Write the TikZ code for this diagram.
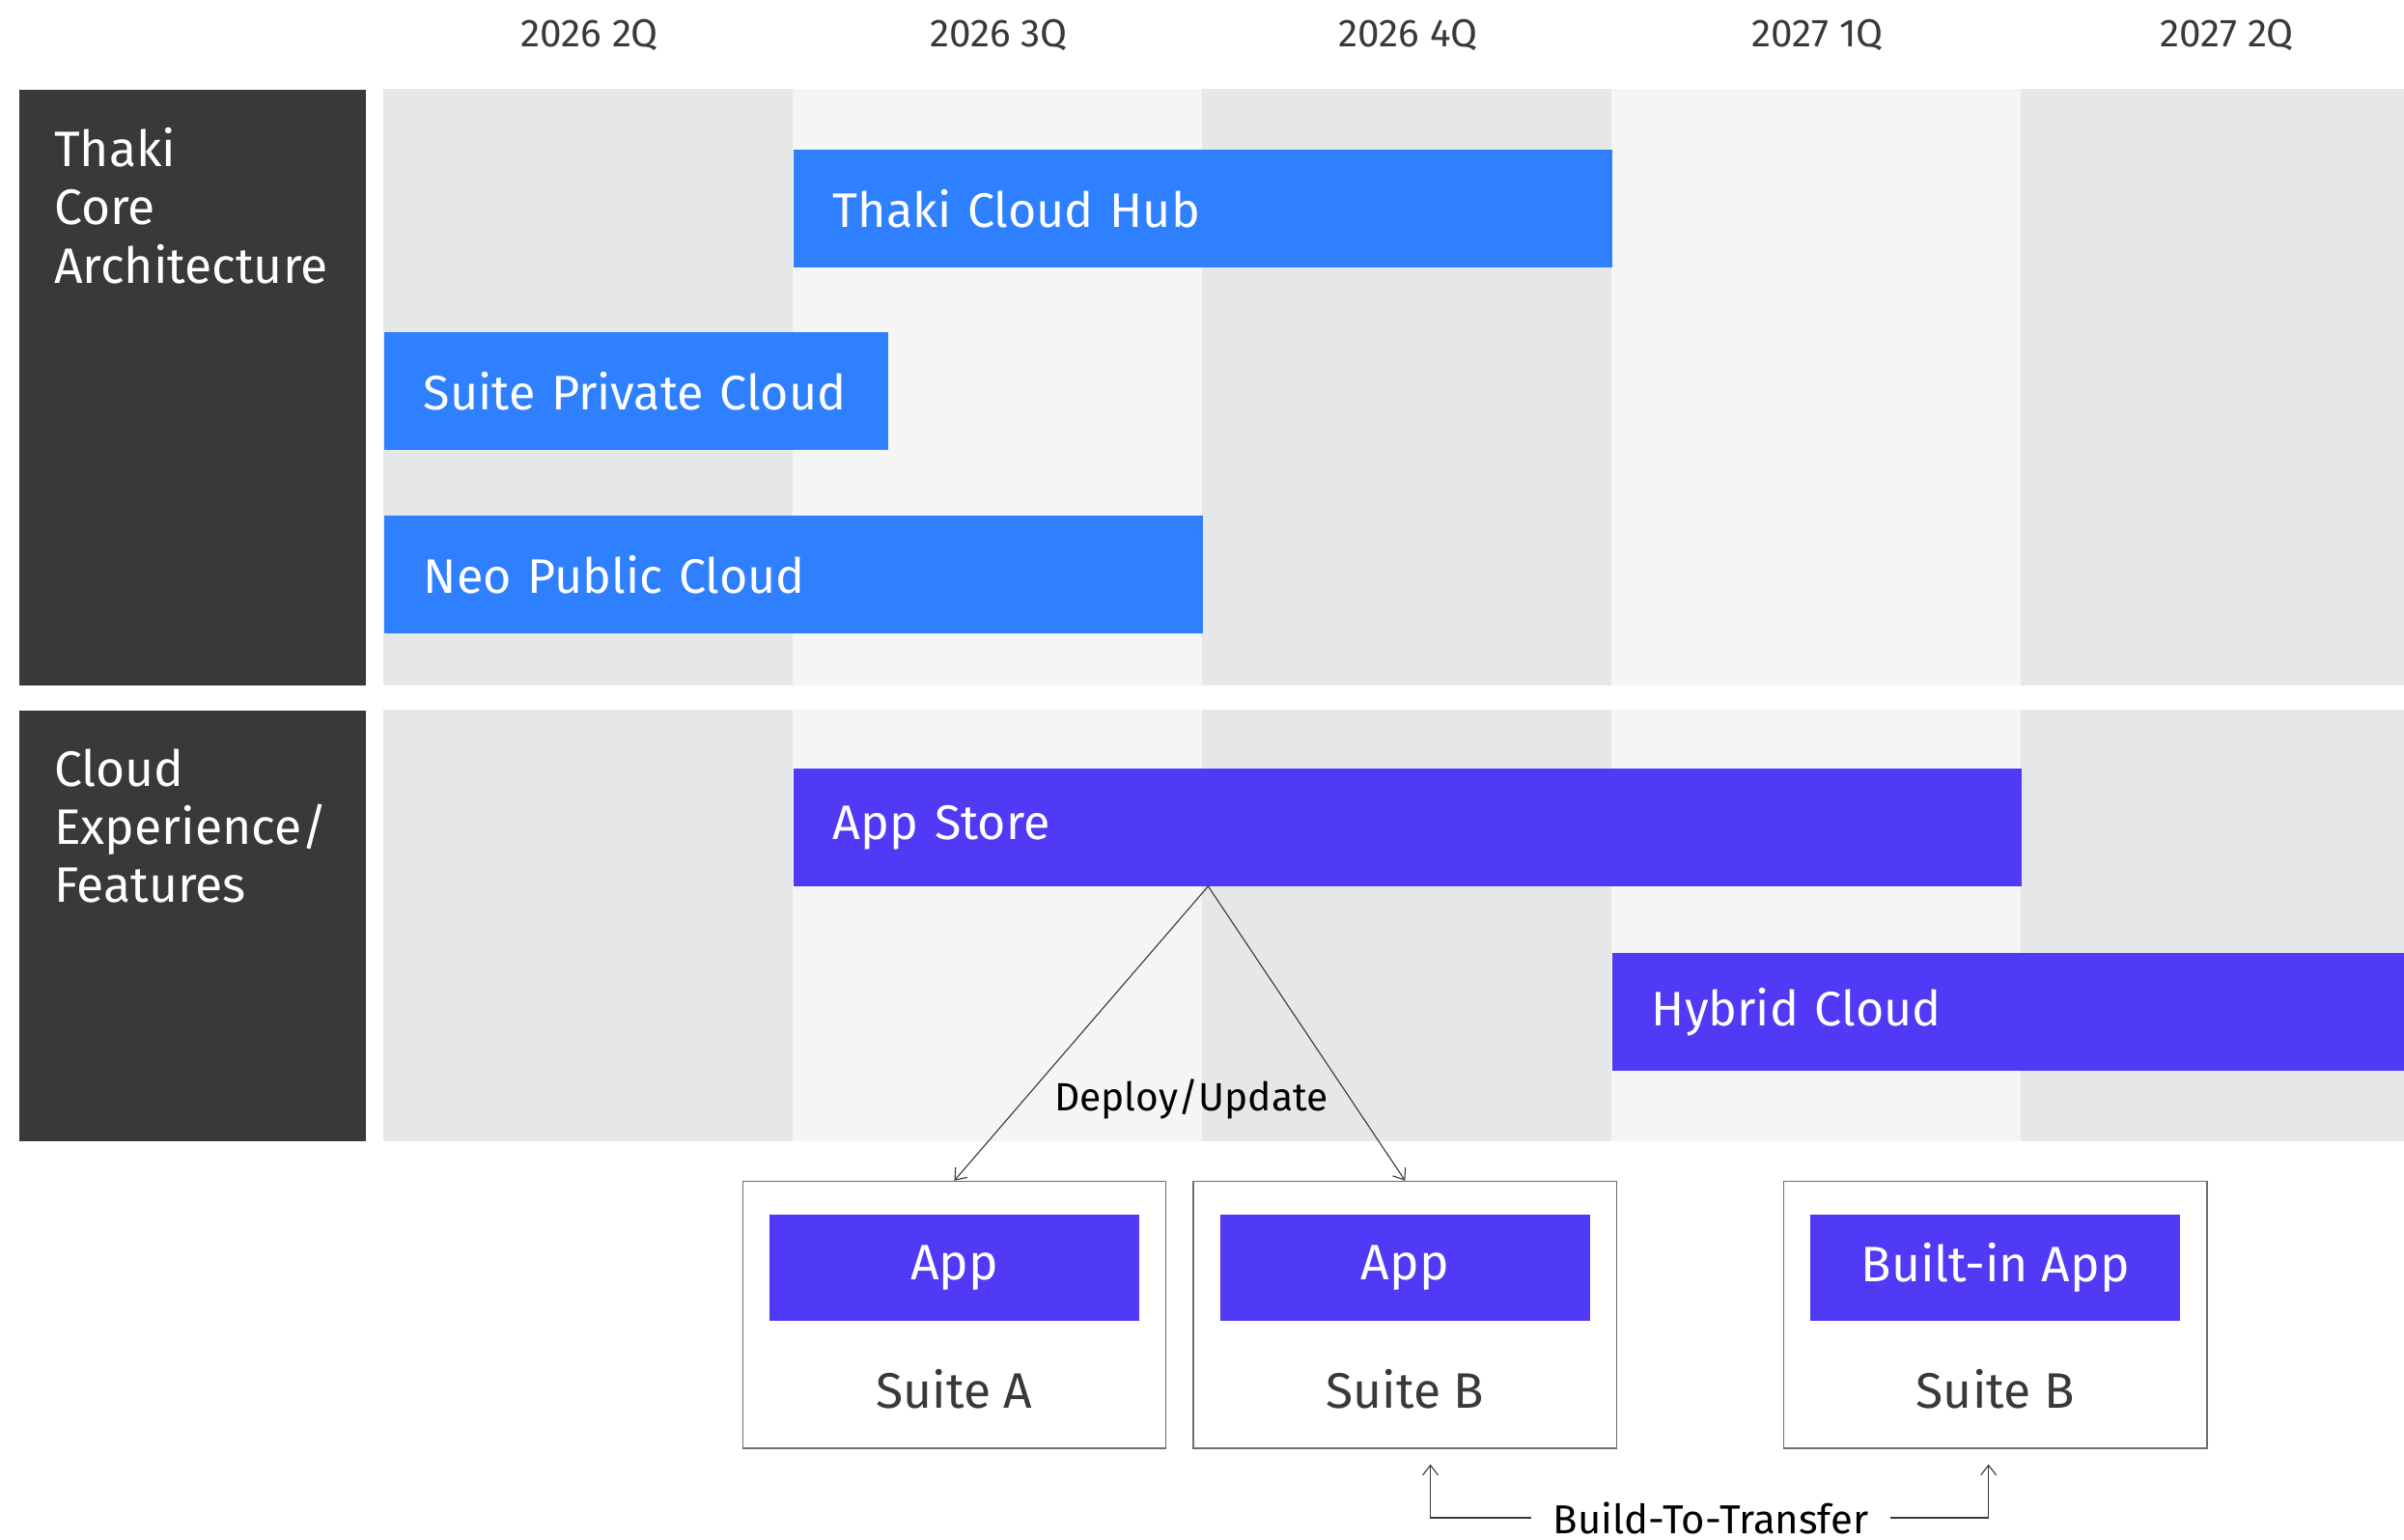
\documentclass[tikz,border=0pt]{standalone}
\usepackage{fontspec}
\setmainfont{Fira Sans}
\usetikzlibrary{positioning, arrows.meta}
\definecolor{headgray}{RGB}{57,57,57}
\definecolor{colA}{RGB}{230,231,233}
\definecolor{colB}{RGB}{245,245,245}
\definecolor{hubblue}{RGB}{47,128,255}
\definecolor{storeviolet}{RGB}{81,58,246}
\definecolor{boxgray}{RGB}{110,110,110}

\begin{document}
\begin{tikzpicture}[x=0.2mm, y=-0.2mm,
    headbox/.style={anchor=north west, fill=headgray, minimum width=45.2mm, inner sep=0pt},
    headtxt/.style={anchor=north west, align=left, text=white, inner sep=0pt, font=\fontsize{18.5}{21.6}\selectfont},
    planbar/.style={anchor=north west, minimum height=15.4mm, inner xsep=5.2mm, inner ysep=0pt, align=left, text=white, font=\fontsize{18}{21}\selectfont},
    suitebox/.style={anchor=north west, draw=boxgray, line width=0.5pt, minimum width=55.2mm, minimum height=34.8mm},
    appbox/.style={fill=storeviolet, minimum width=48.2mm, minimum height=13.8mm, text=white, font=\fontsize{18.5}{21}\selectfont},
    suitetxt/.style={text=headgray, font=\fontsize{18.5}{21}\selectfont},
    yearlbl/.style={text=headgray, font=\fontsize{14.5}{17}\selectfont},
    arrow/.style={-{Straight Barb[length=1.3mm, width=2mm]}, draw=headgray, line width=0.4pt}
]
\useasboundingbox (0,0) rectangle (1568,1004);

% quarter columns
\foreach \i/\c/\yr in {0/colA/2026 2Q, 1/colB/2026 3Q, 2/colA/2026 4Q, 3/colB/2027 1Q, 4/colA/2027 2Q} {
    \fill[\c] ({250+267*\i},58) rectangle ({min(250+267*(\i+1),1568)},447);
    \fill[\c] ({250+267*\i},463) rectangle ({min(250+267*(\i+1),1568)},744);
    \node[yearlbl] (q\i) at ({384.5+267*\i},23) {\yr};
}

% row headers
\node[headbox, minimum height=77.8mm] (corehead) at (12,58) {};
\node[headtxt] (coretxt) at (35,83) {Thaki\\Core\\Architecture};
\node[headbox, minimum height=56.2mm] (feathead) at (12,463) {};
\node[headtxt] (feattxt) at (35,488) {Cloud\\Experience/\\Features};

% bars
\node[planbar, fill=hubblue, text width=96.4mm] (hub) at (517,97) {Thaki Cloud Hub};
\node[planbar, fill=hubblue, text width=55.4mm] (private) at (250,216) {Suite Private Cloud};
\node[planbar, fill=hubblue, text width=96.4mm] (public) at (250,336) {Neo Public Cloud};
\node[planbar, fill=storeviolet, text width=149.8mm] (store) at (517,501) {App Store};
\node[planbar, fill=storeviolet, text width=93mm] (hybrid) at (1051,621) {Hybrid Cloud};

% suites
\node[suitebox] (suiteA) at (484,770) {};
\node[suitebox] (suiteB) at (778,770) {};
\node[suitebox] (suiteC) at (1163,770) {};
\node[appbox, anchor=north, below=4.4mm of suiteA.north] (appA) {App};
\node[appbox, anchor=north, below=4.4mm of suiteB.north] (appB) {App};
\node[appbox, anchor=north, below=4.4mm of suiteC.north] (appC) {Built-in App};
\node[suitetxt] (nameA) at ([yshift=7.8mm]suiteA.south) {Suite A};
\node[suitetxt] (nameB) at ([yshift=7.8mm]suiteB.south) {Suite B};
\node[suitetxt] (nameC) at ([yshift=7.8mm]suiteC.south) {Suite B};

% deploy
\coordinate (fork) at (788,578);
\draw[arrow] (fork) -- (suiteA.north);
\draw[arrow] (fork) -- (suiteB.north);
\node[font=\fontsize{14.6}{17}\selectfont] (deploy) at (777,717) {Deploy/Update};

% transfer
\node[font=\fontsize{15}{17}\selectfont, inner xsep=2.8mm, anchor=base] (transfer) at (1116,1000) {Build-To-Transfer};
\coordinate (toB) at (933,955);
\coordinate (toC) at (1297,955);
\draw[arrow] (transfer.west) -| (toB);
\draw[arrow] (transfer.east) -| (toC);

\end{tikzpicture}
\end{document}
